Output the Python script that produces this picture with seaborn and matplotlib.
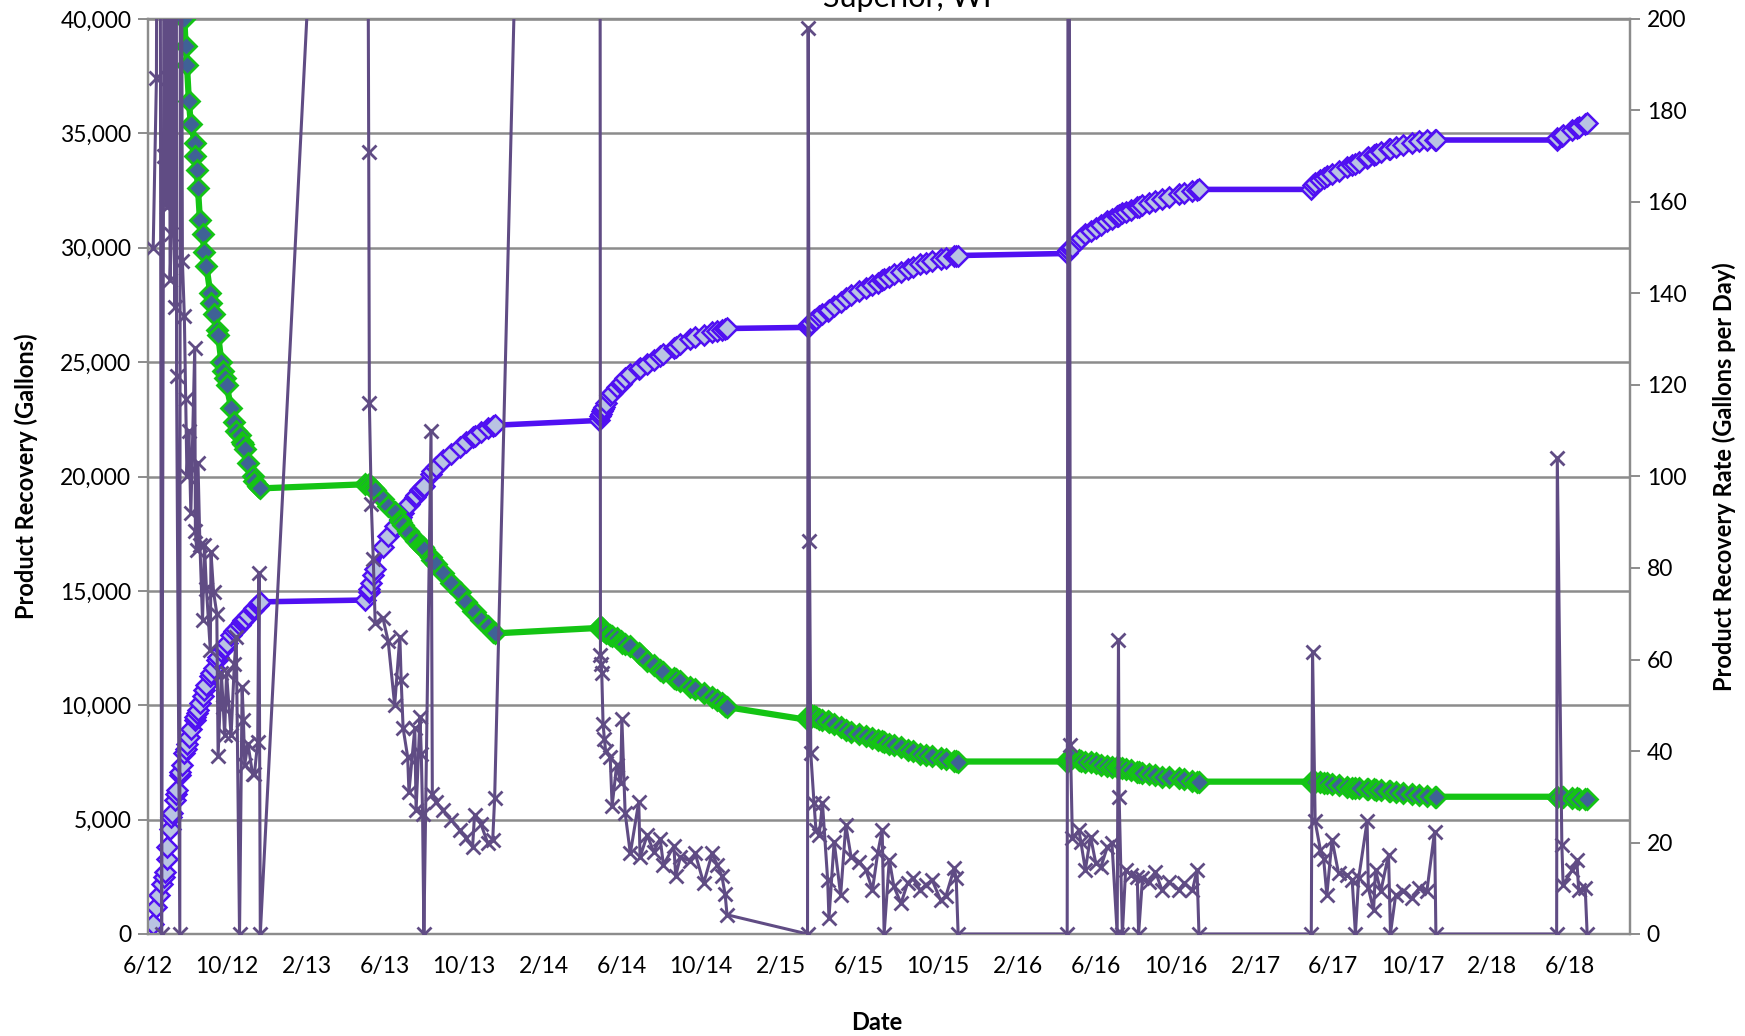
import matplotlib
matplotlib.use("Agg")
import matplotlib.pyplot as plt
import matplotlib.dates as mdates
from matplotlib.ticker import FuncFormatter, MultipleLocator
import pandas as pd
import seaborn as sns

# ---------------- data ----------------
dates = [
    # 2012 season
    "2012-06-09", "2012-06-14", "2012-06-18", "2012-06-22", "2012-06-25", "2012-06-27", "2012-06-30",
    "2012-07-01", "2012-07-05", "2012-07-07", "2012-07-08", "2012-07-12", "2012-07-14", "2012-07-15",
    "2012-07-20", "2012-07-21", "2012-07-24", "2012-07-27", "2012-07-29", "2012-07-31", "2012-08-03",
    "2012-08-06", "2012-08-12", "2012-08-13", "2012-08-15", "2012-08-17", "2012-08-20", "2012-08-24",
    "2012-08-27", "2012-08-30", "2012-09-05", "2012-09-06", "2012-09-10", "2012-09-15", "2012-09-17",
    "2012-09-22", "2012-09-25", "2012-09-27", "2012-09-30", "2012-10-07", "2012-10-12", "2012-10-15",
    "2012-10-20", "2012-10-24", "2012-10-26", "2012-10-28", "2012-11-02", "2012-11-09", "2012-11-12",
    "2012-11-17", "2012-11-19", "2012-11-21",
    # 2013 season
    "2013-05-01", "2013-05-07", "2013-05-08", "2013-05-11", "2013-05-14", "2013-05-17", "2013-05-29",
    "2013-06-06", "2013-06-16", "2013-06-24", "2013-06-26", "2013-06-29", "2013-07-06", "2013-07-08",
    "2013-07-17", "2013-07-19", "2013-07-25", "2013-07-27", "2013-07-29", "2013-07-31", "2013-08-11",
    "2013-08-13", "2013-08-19", "2013-08-29", "2013-09-11", "2013-09-24", "2013-10-04", "2013-10-14",
    "2013-10-17", "2013-10-27", "2013-11-06", "2013-11-14", "2013-11-17",
    # 2014 season
    "2014-04-26", "2014-04-29", "2014-04-30", "2014-05-01", "2014-05-03", "2014-05-05", "2014-05-07",
    "2014-05-14", "2014-05-17", "2014-05-24", "2014-05-30", "2014-06-01", "2014-06-06", "2014-06-14",
    "2014-06-27", "2014-06-29", "2014-07-10", "2014-07-20", "2014-07-30", "2014-08-04", "2014-08-20",
    "2014-08-23", "2014-08-30", "2014-09-14", "2014-09-22", "2014-10-05", "2014-10-18", "2014-10-26",
    "2014-11-02", "2014-11-07", "2014-11-10",
    # 2015 season
    "2015-03-14", "2015-03-15", "2015-03-17", "2015-03-19", "2015-03-24", "2015-03-27", "2015-04-01",
    "2015-04-06", "2015-04-14", "2015-04-16", "2015-04-24", "2015-05-04", "2015-05-12", "2015-05-20",
    "2015-06-02", "2015-06-12", "2015-06-22", "2015-06-30", "2015-07-07", "2015-07-10", "2015-07-18",
    "2015-07-25", "2015-08-05", "2015-08-15", "2015-08-23", "2015-09-04", "2015-09-12", "2015-09-22",
    "2015-10-05", "2015-10-13", "2015-10-26", "2015-10-29", "2015-11-01",
    # 2016 season
    "2016-04-17", "2016-04-19", "2016-04-22", "2016-04-25", "2016-05-05", "2016-05-08", "2016-05-15",
    "2016-05-23", "2016-05-31", "2016-06-08", "2016-06-18", "2016-06-25", "2016-07-03", "2016-07-05",
    "2016-07-06", "2016-07-11", "2016-07-16", "2016-07-24", "2016-08-03", "2016-08-05", "2016-08-11",
    "2016-08-21", "2016-08-31", "2016-09-10", "2016-09-21", "2016-10-06", "2016-10-14", "2016-10-27",
    "2016-11-03", "2016-11-06",
    # 2017 season
    "2017-04-28", "2017-04-30", "2017-05-04", "2017-05-12", "2017-05-17", "2017-05-22", "2017-05-30",
    "2017-06-09", "2017-06-22", "2017-06-30", "2017-07-05", "2017-07-10", "2017-07-23", "2017-07-25",
    "2017-08-02", "2017-08-05", "2017-08-13", "2017-08-25", "2017-08-28", "2017-09-05", "2017-09-17",
    "2017-09-30", "2017-10-11", "2017-10-23", "2017-11-04", "2017-11-06",
    # 2018 season
    "2018-05-11", "2018-05-12", "2018-05-19", "2018-05-21", "2018-06-04", "2018-06-11", "2018-06-14",
    "2018-06-24", "2018-06-27",
]

# cumulative product recovery (gallons, left axis)
recovery = [
    450, 1200, 1700, 2200, 2500, 2700, 3300, 3800, 4600, 5100, 5300, 5850, 6100, 6300, 6950, 7100,
    7400, 7900, 8100, 8300, 8600, 8950, 9350, 9500, 9650, 9800, 10100, 10400, 10650, 10900, 11300,
    11400, 11650, 12000, 12100, 12350, 12500, 12550, 12700, 13050, 13250, 13350, 13500, 13650, 13720,
    13780, 13950, 14150, 14250, 14400, 14450, 14520,
    14600, 14950, 15100, 15350, 15700, 15950, 16900, 17400, 17850, 18150, 18250, 18400, 18750, 18800,
    19100, 19200, 19400, 19450, 19530, 19600, 20100, 20250, 20400, 20700, 21000, 21290, 21500, 21730,
    21780, 21950, 22100, 22200, 22240,
    22450, 22650, 22750, 22850, 22950, 23050, 23200, 23550, 23650, 23900, 24050, 24150, 24300, 24480,
    24700, 24750, 24920, 25100, 25250, 25350, 25600, 25650, 25780, 26000, 26080, 26200, 26330, 26380,
    26420, 26450, 26470,
    26520, 26600, 26660, 26720, 26850, 26900, 27000, 27100, 27250, 27300, 27450, 27650, 27800, 27920,
    28120, 28250, 28380, 28480, 28580, 28620, 28740, 28850, 28960, 29080, 29160, 29280, 29340, 29420,
    29520, 29560, 29630, 29650, 29660,
    29750, 29900, 30000, 30050, 30360, 30420, 30580, 30730, 30880, 31000, 31150, 31250, 31370, 31400,
    31420, 31530, 31580, 31660, 31770, 31800, 31850, 31950, 32040, 32130, 32210, 32330, 32410, 32500,
    32540, 32550,
    32550, 32750, 32850, 32980, 33050, 33120, 33230, 33350, 33520, 33620, 33680, 33760, 33920, 33960,
    34050, 34080, 34180, 34300, 34330, 34420, 34480, 34580, 34650, 34690, 34700, 34710,
    34710, 34800, 34900, 34950, 35150, 35250, 35300, 35400, 35440,
]

# average recovery rate since start (gallons per day, right axis)
avg_rate = [
    900, 600, 480, 400, 360, 340, 300, 285, 260, 250, 242, 230, 224, 218, 210, 207, 203, 200, 194, 190,
    182, 177, 173, 170, 167, 163, 156, 153, 149, 146, 140, 138, 135.5, 132, 131, 125, 123, 121.5, 120,
    115, 112, 110, 109, 107.5, 107, 106, 103, 100, 99, 98, 97.8, 97.4,
    98.3, 98.4, 98.1, 97.8, 97.4, 97.0, 95.0, 93.5, 92.3, 90.5, 90.0, 89.3, 88.0, 87.6, 86.3, 85.9,
    85.0, 84.8, 84.5, 84.2, 82.3, 81.8, 80.8, 79.0, 76.7, 74.7, 72.5, 70.7, 70.3, 68.7, 67.3, 66.1, 65.7,
    66.9, 67.2, 67.0, 66.8, 66.5, 66.2, 65.8, 65.3, 65.1, 64.6, 64.0, 63.7, 63.3, 62.9, 61.5, 61.2,
    59.7, 58.8, 57.8, 57.3, 56.0, 55.7, 55.2, 54.0, 53.5, 52.6, 51.8, 51.1, 50.4, 49.9, 49.6,
    46.8, 47.3, 47.8, 47.9, 47.6, 47.4, 47.1, 46.8, 46.5, 46.4, 46.0, 45.2, 44.6, 44.2, 43.7, 43.3,
    42.8, 42.5, 42.1, 42.0, 41.6, 41.4, 40.9, 40.3, 39.9, 39.4, 39.1, 38.8, 38.5, 38.3, 37.9, 37.8, 37.7,
    37.7, 38.2, 38.4, 38.4, 38.0, 37.9, 37.7, 37.5, 37.3, 37.0, 36.8, 36.6, 36.4, 36.4, 36.3, 36.2,
    36.0, 35.8, 35.5, 35.4, 35.3, 35.0, 34.8, 34.4, 34.3, 34.0, 33.8, 33.5, 33.3, 33.3,
    33.3, 33.4, 33.3, 33.2, 33.1, 33.0, 32.8, 32.5, 32.2, 32.0, 32.0, 31.9, 31.7, 31.7, 31.6, 31.5,
    31.4, 31.3, 31.2, 31.1, 30.9, 30.6, 30.4, 30.2, 30.0, 30.0,
    30.0, 30.0, 30.0, 29.9, 29.8, 29.7, 29.6, 29.5, 29.5,
]

# period recovery rate (gallons per day, right axis)
rate = [
    150, 187, 420, 0, 170, 380, 159, 500, 143, 153, 300, 137, 450, 122, 0, 320, 147, 135, 117, 100,
    110, 92, 128, 88, 84, 103, 85, 68.6, 85, 75.5, 62, 83.5, 74.8, 70, 39, 57, 49.6, 43.4, 57, 43.4,
    59, 65, 0, 54, 46.7, 37, 41.6, 35, 35, 42, 79, 0,
    450, 171, 116, 94, 82, 68, 69, 64, 50, 65, 55.5, 45, 38.7, 31, 45, 27, 47.4, 39.4, 26.3, 0,
    110, 30.7, 28.9, 27, 25, 22.7, 21, 19, 26, 24, 20, 20.5, 29.7,
    950, 61, 59, 57, 46, 42.7, 40, 38.6, 28, 37, 33, 47, 26.5, 17.6, 28.9, 16.8, 21.6, 18, 20.8, 15.1,
    19.2, 12.7, 16.8, 16, 17.6, 11.1, 17.6, 15.1, 12.7, 8.7, 4.2,
    0, 198, 86, 39.5, 28.6, 22.7, 21.7, 28.6, 11.8, 3.4, 20.2, 8.5, 23.8, 16.9, 15.8, 14, 9.6, 17.6,
    22.7, 0.1, 16.2, 10.4, 6.7, 11.1, 12.2, 9.6, 10.7, 11.8, 7.4, 8.2, 14.4, 12.2, 0,
    0, 350, 41.3, 20.9, 22.7, 20.2, 14, 21.3, 15.5, 14.7, 19.1, 19.8, 0.1, 64.3, 30, 0, 14, 12.9, 12.5,
    0, 12.2, 11.4, 13.6, 9.6, 11.4, 9.6, 11.1, 9.6, 14, 0,
    0, 61.7, 24.6, 18.4, 16.5, 8.5, 20.6, 13.3, 12.9, 11.8, 0.1, 12.2, 24.6, 10, 5.2, 14, 9.3, 17.3,
    0.1, 8.5, 9.3, 7.8, 10, 9.3, 22.4, 0,
    0, 104, 19.5, 10.7, 14, 16.2, 9.6, 10, 0,
]

title = "Superior, WI"
x_label = "Date"
left_label = "Product Recovery (Gallons)"
right_label = "Product Recovery Rate (Gallons per Day)"

# ---------------- figure ----------------
sns.set_style("white")
plt.rcParams["font.family"] = ["Lato", "DejaVu Sans"]

df = pd.DataFrame({
    "date": pd.to_datetime(dates),
    "recovery": recovery,
    "avg_rate": avg_rate,
    "rate": rate,
})

W, H = 1745, 1036
fig = plt.figure(figsize=(W / 100, H / 100), dpi=100)
L, R, T, B = 148, 1630, 19, 934
ax1 = fig.add_axes([L / W, (H - B) / H, (R - L) / W, (B - T) / H])
ax2 = ax1.twinx()

grid_c = "#8C8C8C"

sns.lineplot(data=df, x="date", y="recovery", ax=ax1, estimator=None, sort=False,
             color="#5010F2", lw=4, marker="D", markersize=10,
             markerfacecolor="#B9C4E2", markeredgecolor="#5010F2", markeredgewidth=1.8, zorder=3)
sns.lineplot(data=df, x="date", y="avg_rate", ax=ax2, estimator=None, sort=False,
             color="#14C414", lw=4.5, marker="D", markersize=10,
             markerfacecolor="#3F6296", markeredgecolor="#14C414", markeredgewidth=2, zorder=3)
sns.lineplot(data=df, x="date", y="rate", ax=ax2, estimator=None, sort=False,
             color="#604C84", lw=2.2, marker="x", markersize=10, markeredgewidth=2,
             markeredgecolor="#604C84", zorder=4)

ax1.set_xlim(pd.Timestamp("2012-06-01"), pd.Timestamp("2018-09-01"))
ax1.set_ylim(0, 40000)
ax2.set_ylim(0, 200)

ax1.xaxis.set_major_locator(mdates.MonthLocator(bymonth=[2, 6, 10], bymonthday=1))
ax1.xaxis.set_major_formatter(FuncFormatter(
    lambda v, p: f"{mdates.num2date(v).month}/{mdates.num2date(v).strftime('%y')}"))
ax1.yaxis.set_major_locator(MultipleLocator(5000))
ax1.yaxis.set_major_formatter(FuncFormatter(lambda v, p: f"{int(v):,}"))
ax2.yaxis.set_major_locator(MultipleLocator(20))

ax1.grid(False)
ax2.grid(False)
ax1.yaxis.grid(True, color=grid_c, lw=1.8)
ax1.set_axisbelow(True)

for ax in (ax1, ax2):
    for s in ax.spines.values():
        s.set_color(grid_c)
        s.set_linewidth(1.6)
    ax.tick_params(axis="both", which="major", direction="out", length=7, width=1.4,
                   color=grid_c, labelsize=16.5, labelcolor="black")
ax1.tick_params(axis="x", pad=9)
ax1.tick_params(axis="y", pad=5)
ax2.tick_params(axis="y", pad=5)

lab_kw = dict(fontsize=17, fontweight="bold", color="black")
ax1.set_xlabel(x_label, va="center", **lab_kw)
ax1.set_ylabel(left_label, va="center", **lab_kw)
ax2.set_xlabel("")
ax2.set_ylabel(right_label, va="center", rotation=90, **lab_kw)
ax2.yaxis.set_label_position("right")
ax1.xaxis.set_label_coords((877 - L) / (R - L), -(1022 - B) / (B - T))
ax1.yaxis.set_label_coords(-(L - 26) / (R - L), 0.5)
ax2.yaxis.set_label_coords((1712 - L) / (R - L), 0.5)

fig.text(907 / W, 1 - 7 / H, title, ha="center", va="baseline", fontsize=22, color="black")

fig.savefig("out.png", dpi=100)
